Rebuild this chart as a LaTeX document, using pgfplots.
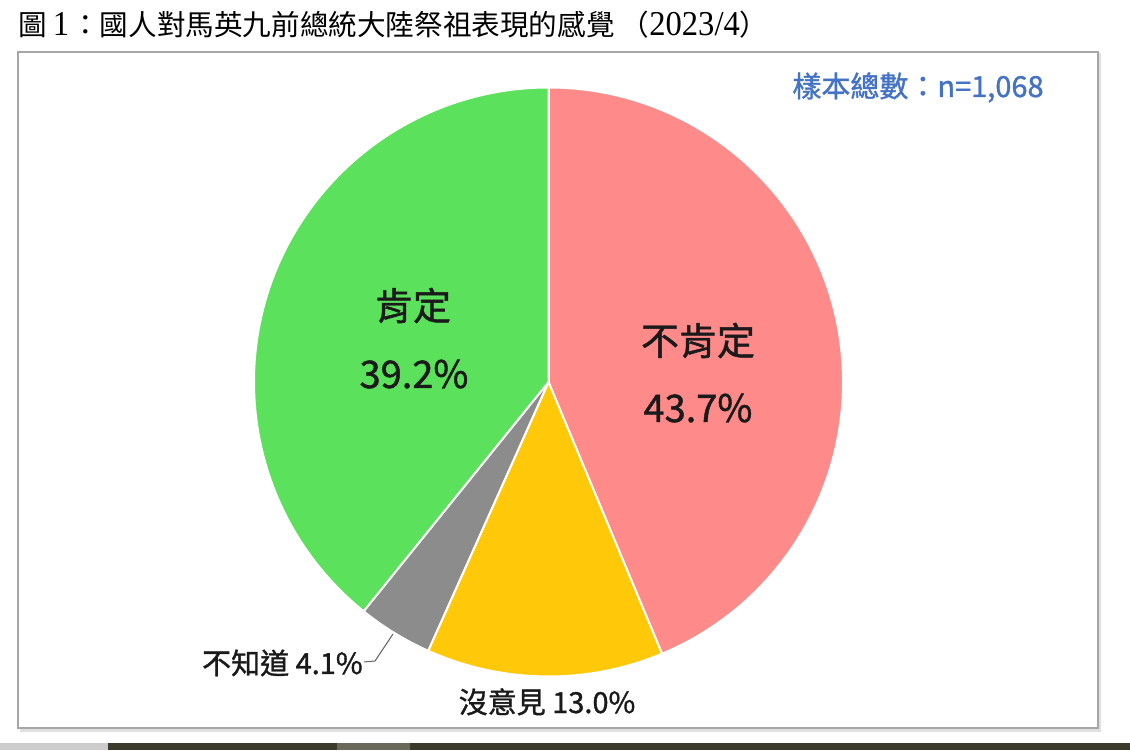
\documentclass[border=0pt]{standalone}
\usepackage{fontspec}
\usepackage{graphicx}
\usepackage{pgfplots}
\usepackage{pgfplotstable}
\pgfplotsset{compat=1.18}
\setmainfont{Noto Sans CJK TC}
\newfontfamily\labelfont[FakeBold=1.2]{Noto Sans CJK TC}
\newfontfamily\serifdigits{Liberation Serif}

\definecolor{pRed}{HTML}{FF8A8A}
\definecolor{pYellow}{HTML}{FFC90A}
\definecolor{pGray}{HTML}{8C8C8C}
\definecolor{pGreen}{HTML}{5BE15B}
\definecolor{nBlue}{HTML}{4472C4}
\definecolor{boxGray}{HTML}{A6A6A6}
\definecolor{labelInk}{HTML}{1A1A1A}

% slices clockwise from 12 o'clock
\pgfplotstableread[col sep=comma]{
name,value,color
不肯定,43.7,pRed
沒意見,13.0,pYellow
不知道,4.1,pGray
肯定,39.2,pGreen
}\piedata

\newcommand{\bigfont}{\labelfont\fontsize{19pt}{23pt}\selectfont}
\newcommand{\smallfont}{\labelfont\fontsize{14.5pt}{17pt}\selectfont}
\newcommand{\tdig}[1]{\scalebox{1.14}[1.22]{\serifdigits #1}}

\begin{document}
\begin{tikzpicture}
% start/end angles from the table
\xdef\acc{90}
\pgfplotstablegetrowsof{\piedata}
\pgfmathtruncatemacro\lastrow{\pgfplotsretval-1}
\foreach \i in {0,...,\lastrow}{
  \pgfplotstablegetelem{\i}{value}\of\piedata
  \pgfmathsetmacro\endang{\acc-3.6*\pgfplotsretval}
  \expandafter\xdef\csname sa\i\endcsname{\acc}
  \expandafter\xdef\csname ea\i\endcsname{\endang}
  \xdef\acc{\endang}
  \pgfplotstablegetelem{\i}{color}\of\piedata
  \expandafter\xdef\csname sc\i\endcsname{\pgfplotsretval}
}
\begin{axis}[
  scale only axis,
  width=565pt, height=375pt,
  xmin=0, xmax=1130, ymin=0, ymax=750,
  hide axis, clip=false,
]
% page background and bounding box
\fill[white] (axis cs:0,0) rectangle (axis cs:1130,750);
% screenshot strip at the bottom
\fill[black!20] (axis cs:0,0) rectangle (axis cs:108,7);
\fill[fill={rgb,255:red,59;green,58;blue,44}] (axis cs:108,0) rectangle (axis cs:1130,7);
\fill[fill={rgb,255:red,106;green,104;blue,90}] (axis cs:337,0) rectangle (axis cs:410,7);

% chart frame
\draw[black!12, line width=1.5pt] (axis cs:19.5,20) -- (axis cs:1099.5,20) -- (axis cs:1099.5,697);
\draw[boxGray, line width=1pt] (axis cs:18,22) rectangle (axis cs:1098,698);

% title
\node[anchor=base west, inner sep=0pt] at (axis cs:18,714)
  {\fontsize{14.3pt}{17pt}\selectfont 圖\hspace{3pt}\tdig{1}\hspace{1pt}：國人對馬英九前總統大陸祭祖表現的感覺\hspace{3pt}（\tdig{2023/4}）};

% slices
\pgfplotsinvokeforeach{0,...,3}{
  \fill[\csname sc#1\endcsname, draw=white, line width=1pt, line join=round]
    (axis cs:548.5,368) -- ++(\csname sa#1\endcsname:147.25pt)
    arc[start angle=\csname sa#1\endcsname, end angle=\csname ea#1\endcsname, radius=147.25pt] -- cycle;
}

% labels
\begin{scope}[every node/.style={inner sep=0pt, text=labelInk}]
\node[anchor=base] at (axis cs:413,430) {\bigfont 肯定};
\node[anchor=base] at (axis cs:414,362) {\bigfont 39.2\%};
\node[anchor=base] at (axis cs:698,395) {\bigfont 不肯定};
\node[anchor=base] at (axis cs:698,328) {\bigfont 43.7\%};
\node[anchor=base east] at (axis cs:363,76) {\smallfont 不知道 4.1\%};
\node[anchor=base] at (axis cs:547,37) {\smallfont 沒意見 13.0\%};
\end{scope}
\draw[black!60, line width=0.5pt] (axis cs:364,88) -- (axis cs:375,89) -- (axis cs:393,116);

\node[anchor=base west, inner sep=0pt, text=nBlue] at (axis cs:792,653)
  {\labelfont\fontsize{14.5pt}{17pt}\selectfont 樣本總數：n=1,068};
\end{axis}
\end{tikzpicture}
\end{document}
